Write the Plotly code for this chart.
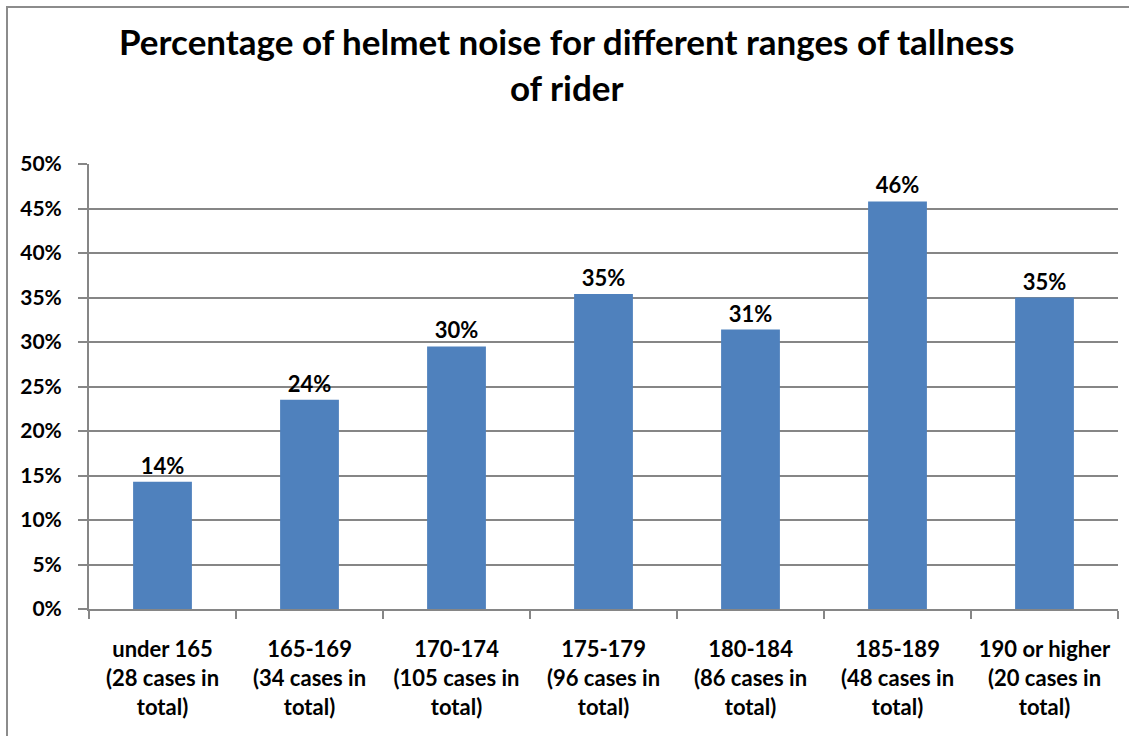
import plotly.graph_objects as go

categories = [
    "under 165<br>(28 cases in<br>total)",
    "165-169<br>(34 cases in<br>total)",
    "170-174<br>(105 cases in<br>total)",
    "175-179<br>(96 cases in<br>total)",
    "180-184<br>(86 cases in<br>total)",
    "185-189<br>(48 cases in<br>total)",
    "190 or higher<br>(20 cases in<br>total)",
]
values = [0.143, 0.235, 0.295, 0.354, 0.314, 0.458, 0.350]
value_labels = ["14%", "24%", "30%", "35%", "31%", "46%", "35%"]
y_ticks = [0, 0.05, 0.10, 0.15, 0.20, 0.25, 0.30, 0.35, 0.40, 0.45, 0.50]
y_tick_labels = ["0%", "5%", "10%", "15%", "20%", "25%", "30%", "35%", "40%", "45%", "50%"]
title_text = "<b>Percentage of helmet noise for different ranges of tallness<br>of rider</b>"

FONT = "Lato"
GRID = "#868686"

fig = go.Figure(
    go.Bar(
        x=categories,
        y=values,
        text=value_labels,
        textposition="outside",
        textfont=dict(family=FONT, size=22, color="#000000", weight="bold"),
        cliponaxis=False,
        marker=dict(color="#4F81BD", line=dict(width=0)),
        width=0.4,
        hoverinfo="skip",
    )
)

fig.update_layout(
    width=1129,
    height=736,
    margin=dict(l=89, r=11, t=164, b=127),
    paper_bgcolor="white",
    plot_bgcolor="white",
    showlegend=False,
    font=dict(family=FONT, color="#000000"),
    annotations=[
        dict(
            text=title_text,
            xref="paper",
            yref="paper",
            x=(566 - 89) / 1029,
            y=(609 - 64) / 445,
            xanchor="center",
            yanchor="middle",
            showarrow=False,
            align="center",
            font=dict(family=FONT, size=35, color="#000000"),
        )
    ],
    shapes=[
        dict(
            type="rect",
            xref="paper",
            yref="paper",
            x0=(7 - 89) / 1029,
            x1=(1140 - 89) / 1029,
            y0=(609 - 745) / 445,
            y1=(609 - 7) / 445,
            line=dict(color="#8C8C8C", width=2),
            fillcolor="rgba(0,0,0,0)",
            layer="below",
        )
    ],
)

fig.update_xaxes(
    type="category",
    showgrid=False,
    showline=True,
    linecolor=GRID,
    linewidth=2,
    ticks="outside",
    tickson="boundaries",
    ticklen=8,
    tickwidth=2,
    tickcolor=GRID,
    tickfont=dict(family=FONT, size=22, color="#000000", weight="bold"),
    ticklabelstandoff=20,
    tickangle=0,
)

fig.update_yaxes(
    range=[0, 0.5],
    tickvals=y_ticks,
    ticktext=y_tick_labels,
    showgrid=True,
    gridcolor=GRID,
    gridwidth=2,
    showline=True,
    linecolor=GRID,
    linewidth=2,
    ticks="outside",
    ticklen=9,
    tickwidth=2,
    tickcolor=GRID,
    tickfont=dict(family=FONT, size=21, color="#000000", weight="bold"),
    ticklabelstandoff=12,
    zeroline=False,
)

fig.write_html("out.html")
